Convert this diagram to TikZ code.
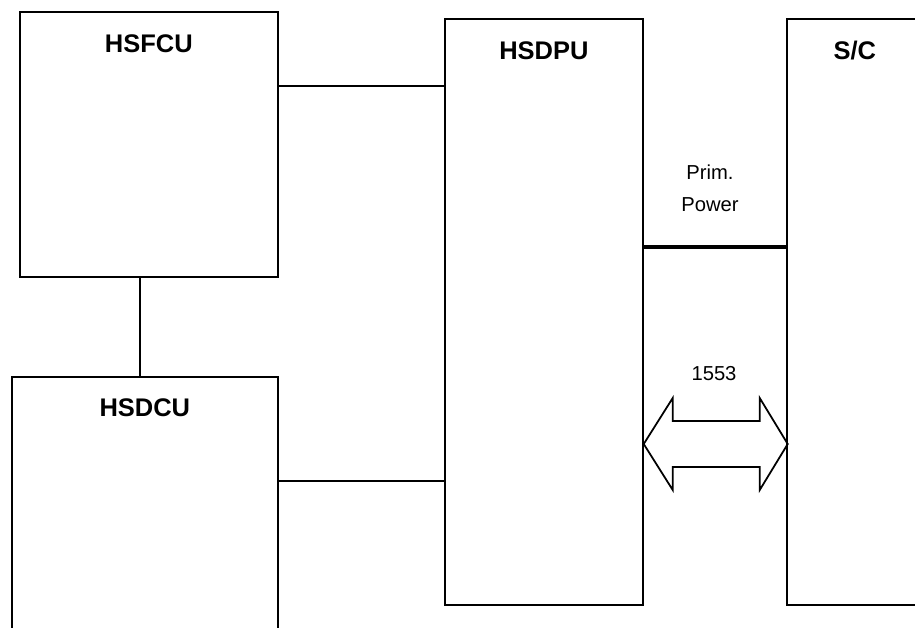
\documentclass[tikz,border=0pt]{standalone}
\usepackage{fontspec}
\setmainfont{Liberation Sans}
\usetikzlibrary{positioning, calc}

\begin{document}
\begin{tikzpicture}[
    x=0.02cm, y=-0.02cm,
    every node/.style={font=\fontsize{11.5}{18}\selectfont, align=center},
    unit/.style={
        rectangle, draw=black, line width=1pt,
        anchor=north west, inner sep=0pt
    },
    unitname/.style={font=\fontsize{14.5}{17}\selectfont\bfseries},
    link/.style={draw=black, line width=1pt},
    power/.style={draw=black, line width=2.6pt},
    bus/.style={draw=black, line width=1pt, line join=miter},
]
% === FRAME ===
\clip (0,0) rectangle (915,628);

% === UNITS ===
\node[unit, minimum width=5.16cm, minimum height=5.30cm] (hsfcu) at (19,11) {};
\node[unit, minimum width=5.32cm, minimum height=6cm] (hsdcu) at (11,376) {};
\node[unit, minimum width=3.96cm, minimum height=11.72cm] (hsdpu) at (444,18) {};
\node[unit, minimum width=2.72cm, minimum height=11.72cm] (sc) at (786,18) {};

\node[unitname] (hsfcuname) at ($(hsfcu.north)+(0,33)$) {HSFCU};
\node[unitname] (hsdcuname) at ($(hsdcu.north)+(0,32)$) {HSDCU};
\node[unitname] (hsdpuname) at ($(hsdpu.north)+(0,33)$) {HSDPU};
\node[unitname] (scname) at ($(sc.north)+(0,33)$) {S/C};

% === LINKS ===
% HSFCU -> HSDPU
\draw[link] (hsfcu.east |- 0,86) -- (hsdpu.west |- 0,86);
% HSFCU -> HSDCU
\draw[link] (hsfcu.south -| 140,0) -- (hsdcu.north -| 140,0);
% HSDCU -> HSDPU
\draw[link] (hsdcu.east |- 0,481) -- (hsdpu.west |- 0,481);

% HSDPU -> S/C primary power
\draw[power] (hsdpu.east |- 0,247) -- (sc.west |- 0,247);
\node (powerlabel) at (710,188) {Prim.\\Power};

% HSDPU <-> S/C 1553 bus
\coordinate (busL) at (hsdpu.east |- 0,444);
\draw[bus] (busL) -- ++(29,-46) -- ++(0,23) -- ++(87,0) -- ++(0,-23)
    -- ++(28,46) -- ++(-28,46) -- ++(0,-23) -- ++(-87,0) -- ++(0,23) -- cycle;
\node (buslabel) at (714,374) {1553};
\end{tikzpicture}
\end{document}
